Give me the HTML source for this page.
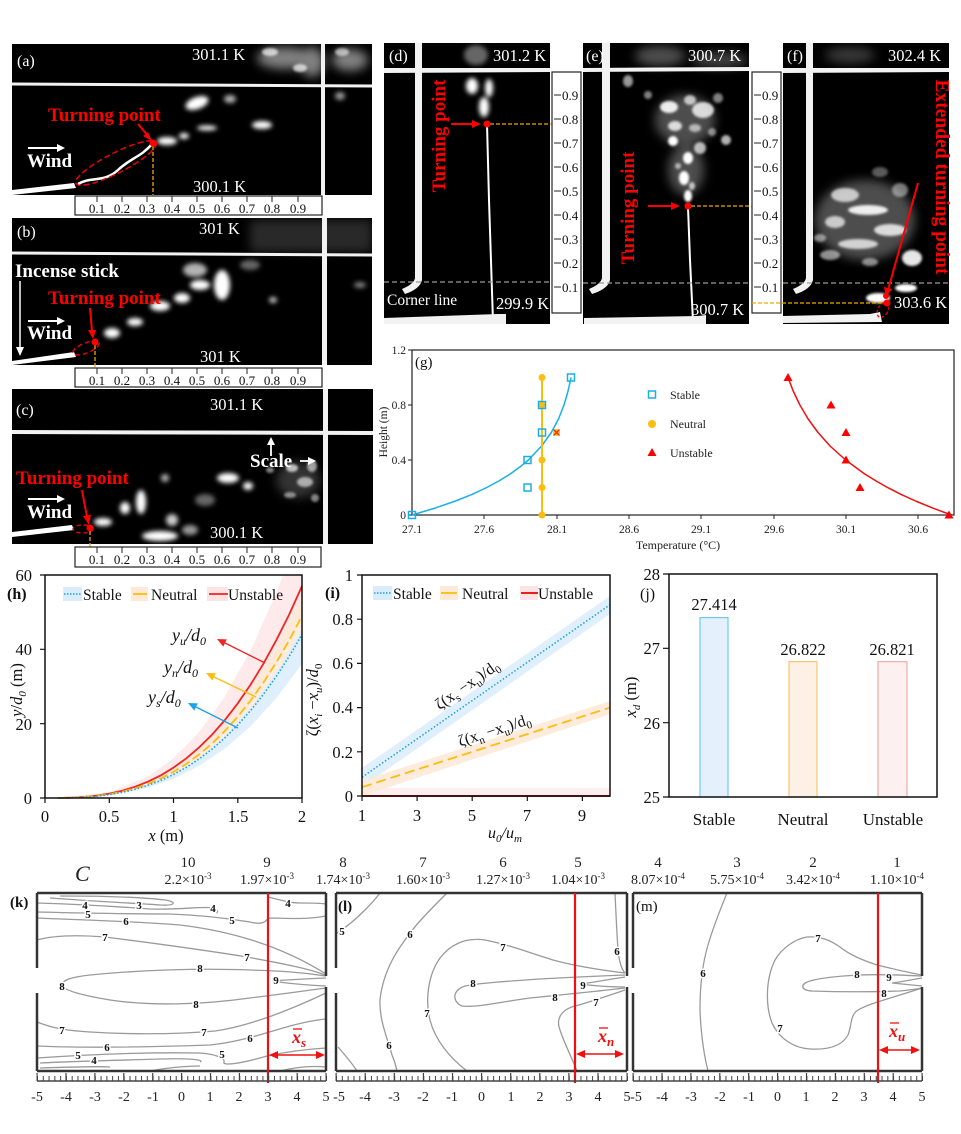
<!DOCTYPE html>
<html><head><meta charset="utf-8">
<style>
html,body{margin:0;padding:0;background:#fff;}
svg{display:block;font-family:"Liberation Serif","Times New Roman",serif;}
</style></head><body>
<svg width="961" height="1134" viewBox="0 0 961 1134" xmlns="http://www.w3.org/2000/svg">
<defs>
<filter id="b1" x="-50%" y="-50%" width="200%" height="200%"><feGaussianBlur stdDeviation="1.2"/></filter>
<filter id="b2" x="-50%" y="-50%" width="200%" height="200%"><feGaussianBlur stdDeviation="2.5"/></filter>
<filter id="b3" x="-50%" y="-50%" width="200%" height="200%"><feGaussianBlur stdDeviation="5"/></filter>
</defs>
<rect width="961" height="1134" fill="#fff"/>

<!-- ===================== (a) ===================== -->
<rect x="12" y="44" width="360" height="151" fill="#000"/>
<g filter="url(#b3)" fill="#fff" opacity="0.5">
<ellipse cx="285" cy="58" rx="28" ry="11"/><ellipse cx="312" cy="62" rx="12" ry="15"/><ellipse cx="350" cy="60" rx="18" ry="11"/>
</g>
<g filter="url(#b1)" fill="#fff">
<ellipse cx="270" cy="52" rx="8" ry="4" opacity="0.7"/><ellipse cx="300" cy="68" rx="7" ry="4" opacity="0.7"/><ellipse cx="342" cy="52" rx="7" ry="4" opacity="0.6"/>
</g>
<g filter="url(#b2)" fill="#fff">
<ellipse cx="197" cy="103" rx="12" ry="6" transform="rotate(-20 197 103)"/>
<ellipse cx="167" cy="141" rx="10" ry="4"/>
<ellipse cx="184" cy="136" rx="5" ry="3"/>
<ellipse cx="207" cy="128" rx="10" ry="2.5"/>
<ellipse cx="230" cy="99" rx="6" ry="4" opacity="0.7"/>
<ellipse cx="262" cy="125" rx="10" ry="4"/>
<ellipse cx="340" cy="96" rx="5" ry="4" opacity="0.6"/>
</g>
<path d="M78,184 C92,176 104,183 118,170 S140,158 153,143" stroke="#fff" stroke-width="2.5" fill="none"/>
<path d="M12,190 L74,183 L76,188 L12,195 Z" fill="#fff"/>
<path d="M12,84 L372,86" stroke="#f2f2f2" stroke-width="3"/>
<rect x="321" y="44" width="4" height="151" fill="#f2f2f2"/>
<ellipse cx="116" cy="163" rx="45" ry="10" transform="rotate(-27 116 163)" fill="none" stroke="#e00" stroke-width="1.5" stroke-dasharray="6,3"/>
<line x1="153" y1="146" x2="153" y2="196" stroke="#f0a800" stroke-width="1.3" stroke-dasharray="4,2"/>
<circle cx="153" cy="143" r="3.5" fill="#f00"/>
<line x1="138" y1="124" x2="149" y2="137" stroke="#f00" stroke-width="2"/>
<polygon points="152,141 143,136 148,132" fill="#f00"/>
<text x="17" y="66" fill="#fff" font-size="16">(a)</text>
<text x="192" y="60" fill="#fff" font-size="16.5">301.1 K</text>
<text x="193" y="192" fill="#fff" font-size="16.5">300.1 K</text>
<text x="48" y="121" fill="#f00" font-size="19" font-weight="bold">Turning point</text>
<line x1="28" y1="148" x2="58" y2="148" stroke="#fff" stroke-width="2"/><polygon points="65,148 57,144 57,152" fill="#fff"/>
<text x="27" y="167" fill="#fff" font-size="19" font-weight="bold">Wind</text>
<!-- scale a -->
<rect x="75" y="196" width="247" height="19" fill="#fff" stroke="#222" stroke-width="1.2"/>
<g stroke="#222" stroke-width="1"><path d="M97,196v6M122,196v6M147,196v6M172,196v6M197,196v6M222,196v6M247,196v6M272,196v6M298,196v6"/></g>
<g font-size="13" text-anchor="middle" fill="#111"><text x="97" y="213">0.1</text><text x="122" y="213">0.2</text><text x="147" y="213">0.3</text><text x="172" y="213">0.4</text><text x="197" y="213">0.5</text><text x="222" y="213">0.6</text><text x="247" y="213">0.7</text><text x="272" y="213">0.8</text><text x="298" y="213">0.9</text></g>

<!-- ===================== (b) ===================== -->
<rect x="12" y="218" width="360" height="147" fill="#000"/>
<rect x="250" y="220" width="122" height="32" fill="#fff" opacity="0.16" filter="url(#b3)"/>
<g filter="url(#b2)" fill="#fff">
<ellipse cx="112" cy="333" rx="8" ry="5"/>
<ellipse cx="135" cy="322" rx="8" ry="4"/>
<ellipse cx="160" cy="306" rx="10" ry="5"/>
<ellipse cx="182" cy="298" rx="8" ry="5"/>
<ellipse cx="200" cy="285" rx="10" ry="5"/>
<ellipse cx="222" cy="285" rx="8" ry="15"/>
<ellipse cx="195" cy="270" rx="12" ry="7" opacity="0.7"/>
<ellipse cx="273" cy="300" rx="4" ry="3" opacity="0.8"/>
<ellipse cx="250" cy="265" rx="10" ry="5" opacity="0.4"/>
<ellipse cx="360" cy="285" rx="6" ry="3" opacity="0.5"/>
</g>
<path d="M12,361 L74,352 L76,357 L12,365 Z" fill="#fff"/>
<path d="M12,253 L372,255" stroke="#f2f2f2" stroke-width="3"/>
<rect x="322" y="218" width="5" height="147" fill="#f2f2f2"/>
<ellipse cx="86" cy="348" rx="14" ry="5" transform="rotate(-22 86 348)" fill="none" stroke="#e00" stroke-width="1.4" stroke-dasharray="5,3"/>
<line x1="95" y1="345" x2="95" y2="368" stroke="#f0a800" stroke-width="1.3" stroke-dasharray="4,2"/>
<circle cx="95" cy="342" r="3.5" fill="#f00"/>
<line x1="90" y1="308" x2="92" y2="331" stroke="#f00" stroke-width="2"/><polygon points="93,339 88,330 96,330" fill="#f00"/>
<text x="17" y="237" fill="#fff" font-size="16">(b)</text>
<text x="199" y="234" fill="#fff" font-size="16.5">301 K</text>
<text x="200" y="362" fill="#fff" font-size="16.5">301 K</text>
<text x="15" y="277" fill="#fff" font-size="19" font-weight="bold">Incense stick</text>
<line x1="20" y1="281" x2="20" y2="348" stroke="#fff" stroke-width="1.5"/><polygon points="20,356 16,347 24,347" fill="#fff"/>
<text x="48" y="304" fill="#f00" font-size="19" font-weight="bold">Turning point</text>
<line x1="28" y1="321" x2="58" y2="321" stroke="#fff" stroke-width="2"/><polygon points="65,321 57,317 57,325" fill="#fff"/>
<text x="27" y="339" fill="#fff" font-size="19" font-weight="bold">Wind</text>
<!-- scale b -->
<rect x="75" y="368" width="247" height="19" fill="#fff" stroke="#222" stroke-width="1.2"/>
<g stroke="#222" stroke-width="1"><path d="M97,368v6M122,368v6M147,368v6M172,368v6M197,368v6M222,368v6M247,368v6M272,368v6M298,368v6"/></g>
<g font-size="13" text-anchor="middle" fill="#111"><text x="97" y="385">0.1</text><text x="122" y="385">0.2</text><text x="147" y="385">0.3</text><text x="172" y="385">0.4</text><text x="197" y="385">0.5</text><text x="222" y="385">0.6</text><text x="247" y="385">0.7</text><text x="272" y="385">0.8</text><text x="298" y="385">0.9</text></g>

<!-- ===================== (c) ===================== -->
<rect x="12" y="389" width="361" height="155" fill="#000"/>
<g filter="url(#b2)" fill="#fff">
<ellipse cx="103" cy="522" rx="9" ry="4"/>
<ellipse cx="141" cy="502" rx="5" ry="12"/>
<ellipse cx="125" cy="508" rx="5" ry="6"/>
<ellipse cx="160" cy="536" rx="18" ry="5"/>
<ellipse cx="172" cy="520" rx="6" ry="6" opacity="0.8"/>
<ellipse cx="165" cy="478" rx="4" ry="4" opacity="0.7"/>
<ellipse cx="228" cy="478" rx="11" ry="5"/>
<ellipse cx="248" cy="486" rx="5" ry="4"/>
<ellipse cx="205" cy="500" rx="10" ry="6" opacity="0.4"/>
<ellipse cx="190" cy="530" rx="8" ry="5" opacity="0.6"/>
</g>
<g filter="url(#b1)" fill="#fff">
<ellipse cx="292" cy="468" rx="6" ry="4" opacity="0.7"/>
<ellipse cx="305" cy="482" rx="8" ry="5" opacity="0.6"/>
<ellipse cx="312" cy="466" rx="5" ry="6" opacity="0.6"/>
<ellipse cx="290" cy="495" rx="6" ry="3" opacity="0.5"/>
<ellipse cx="315" cy="498" rx="4" ry="4" opacity="0.5"/>
<ellipse cx="270" cy="470" rx="4" ry="3" opacity="0.5"/>
</g>
<ellipse cx="298" cy="480" rx="22" ry="18" fill="#fff" opacity="0.2" filter="url(#b3)"/>
<path d="M12,532 L72,525 L74,530 L12,537 Z" fill="#fff"/>
<path d="M12,432 L373,433" stroke="#f2f2f2" stroke-width="4"/>
<rect x="323" y="389" width="5" height="155" fill="#f2f2f2"/>
<ellipse cx="83" cy="529" rx="10" ry="4" fill="none" stroke="#e00" stroke-width="1.4" stroke-dasharray="4,3"/>
<line x1="90" y1="531" x2="90" y2="547" stroke="#f0a800" stroke-width="1.3" stroke-dasharray="4,2"/>
<circle cx="90" cy="528" r="3.5" fill="#f00"/>
<line x1="82" y1="490" x2="87" y2="517" stroke="#f00" stroke-width="2"/><polygon points="89,525 83,516 91,515" fill="#f00"/>
<text x="16" y="415" fill="#fff" font-size="16">(c)</text>
<text x="210" y="410" fill="#fff" font-size="16.5">301.1 K</text>
<text x="210" y="538" fill="#fff" font-size="16.5">300.1 K</text>
<text x="16" y="484" fill="#f00" font-size="19" font-weight="bold">Turning point</text>
<line x1="28" y1="499" x2="58" y2="499" stroke="#fff" stroke-width="2"/><polygon points="65,499 57,495 57,503" fill="#fff"/>
<text x="27" y="518" fill="#fff" font-size="19" font-weight="bold">Wind</text>
<text x="250" y="467" fill="#fff" font-size="19" font-weight="bold">Scale</text>
<line x1="271" y1="456" x2="271" y2="443" stroke="#fff" stroke-width="1.8"/><polygon points="271,437 267,445 275,445" fill="#fff"/>
<line x1="300" y1="461" x2="309" y2="461" stroke="#fff" stroke-width="1.8"/><polygon points="316,461 308,457 308,465" fill="#fff"/>
<!-- scale c -->
<rect x="75" y="547" width="246" height="20" fill="#fff" stroke="#222" stroke-width="1.2"/>
<g stroke="#222" stroke-width="1"><path d="M97,547v6M122,547v6M147,547v6M172,547v6M197,547v6M222,547v6M247,547v6M272,547v6M298,547v6"/></g>
<g font-size="13" text-anchor="middle" fill="#111"><text x="97" y="564">0.1</text><text x="122" y="564">0.2</text><text x="147" y="564">0.3</text><text x="172" y="564">0.4</text><text x="197" y="564">0.5</text><text x="222" y="564">0.6</text><text x="247" y="564">0.7</text><text x="272" y="564">0.8</text><text x="298" y="564">0.9</text></g>

<!-- ===================== (d) ===================== -->
<rect x="384" y="43" width="166" height="281" fill="#000"/>
<g filter="url(#b2)" fill="#fff">
<ellipse cx="476" cy="55" rx="12" ry="10" opacity="0.4"/>
<ellipse cx="472" cy="86" rx="6" ry="8"/>
<ellipse cx="489" cy="88" rx="4" ry="9"/>
<ellipse cx="484" cy="107" rx="5" ry="10"/>
</g>
<path d="M487,124 L489,200 L493,322" stroke="#fff" stroke-width="2" fill="none"/>
<path d="M384,68 L550,68 L550,72 L384,73 Z" fill="#f2f2f2"/>
<path d="M415,43 L422,43 L422,280 Q420,289 405,294 L402,289 Q414,284 415,278 Z" fill="#f2f2f2"/>
<path d="M384,318 L498,314 L506,314 L506,324 L384,324 Z" fill="#f2f2f2"/>
<line x1="384" y1="282" x2="550" y2="282" stroke="#999" stroke-width="1.3" stroke-dasharray="5,3"/>
<line x1="490" y1="124" x2="552" y2="124" stroke="#f0a800" stroke-width="1.3" stroke-dasharray="4,2"/>
<circle cx="487" cy="124" r="3.5" fill="#f00"/>
<line x1="451" y1="124" x2="473" y2="124" stroke="#f00" stroke-width="2"/><polygon points="481,124 472,120 472,128" fill="#f00"/>
<text transform="translate(445,136) rotate(-90)" text-anchor="middle" fill="#f00" font-size="19" font-weight="bold">Turning point</text>
<text x="389" y="61" fill="#fff" font-size="16">(d)</text>
<text x="493" y="61" fill="#fff" font-size="16.5">301.2 K</text>
<text x="496" y="309" fill="#fff" font-size="16.5">299.9 K</text>
<text x="387" y="305" fill="#fff" font-size="15.5">Corner line</text>
<!-- scale d -->
<rect x="552" y="72" width="29" height="241" fill="#fff" stroke="#222" stroke-width="1.2"/>
<g stroke="#222" stroke-width="1"><path d="M554,95h7M554,119h7M554,143h7M554,167h7M554,191h7M554,215h7M554,239h7M554,263h7M554,287h7"/></g>
<g font-size="13" fill="#111"><text x="562" y="100">0.9</text><text x="562" y="124">0.8</text><text x="562" y="148">0.7</text><text x="562" y="172">0.6</text><text x="562" y="196">0.5</text><text x="562" y="220">0.4</text><text x="562" y="244">0.3</text><text x="562" y="268">0.2</text><text x="562" y="292">0.1</text></g>

<!-- ===================== (e) ===================== -->
<rect x="583" y="43" width="166" height="281" fill="#000"/>
<g filter="url(#b3)" fill="#fff">
<ellipse cx="660" cy="56" rx="25" ry="10" opacity="0.3"/>
<ellipse cx="720" cy="60" rx="28" ry="8" opacity="0.25"/>
<ellipse cx="685" cy="120" rx="30" ry="25" opacity="0.3"/>
<ellipse cx="686" cy="170" rx="18" ry="25" opacity="0.3"/>
</g>
<g filter="url(#b1)" fill="#fff">
<ellipse cx="628" cy="81" rx="5" ry="6" opacity="0.6"/>
<ellipse cx="648" cy="95" rx="4" ry="4" opacity="0.5"/>
<ellipse cx="669" cy="107" rx="9" ry="6" opacity="0.9"/>
<ellipse cx="690" cy="100" rx="6" ry="5" opacity="0.7"/>
<ellipse cx="703" cy="110" rx="11" ry="8" opacity="0.8"/>
<ellipse cx="718" cy="98" rx="5" ry="5" opacity="0.5"/>
<ellipse cx="675" cy="126" rx="7" ry="5" opacity="0.8"/>
<ellipse cx="695" cy="128" rx="6" ry="4" opacity="0.6"/>
<ellipse cx="673" cy="141" rx="5" ry="5"/>
<ellipse cx="700" cy="148" rx="6" ry="6" opacity="0.7"/>
<ellipse cx="726" cy="140" rx="5" ry="5" opacity="0.7"/>
<ellipse cx="712" cy="132" rx="4" ry="4" opacity="0.5"/>
<ellipse cx="688" cy="158" rx="5" ry="6"/>
<ellipse cx="678" cy="166" rx="3" ry="3" opacity="0.6"/>
<ellipse cx="684" cy="178" rx="5" ry="7"/>
<ellipse cx="692" cy="186" rx="3" ry="4" opacity="0.7"/>
<ellipse cx="688" cy="196" rx="4" ry="6"/>
</g>
<path d="M688,207 L690,260 L693,322" stroke="#fff" stroke-width="2" fill="none"/>
<path d="M583,68 L749,67 L749,71 L583,72 Z" fill="#f2f2f2"/>
<path d="M602,43 L610,43 L610,280 Q608,289 592,294 L589,289 Q601,284 602,278 Z" fill="#f2f2f2"/>
<path d="M584,318 L698,316 L706,315 L706,324 L584,324 Z" fill="#f2f2f2"/>
<line x1="583" y1="283" x2="749" y2="283" stroke="#999" stroke-width="1.3" stroke-dasharray="5,3"/>
<line x1="691" y1="206" x2="752" y2="206" stroke="#f0a800" stroke-width="1.3" stroke-dasharray="4,2"/>
<circle cx="688" cy="206" r="3.5" fill="#f00"/>
<line x1="648" y1="206" x2="672" y2="206" stroke="#f00" stroke-width="2"/><polygon points="680,206 671,202 671,210" fill="#f00"/>
<text transform="translate(634,208) rotate(-90)" text-anchor="middle" fill="#f00" font-size="19" font-weight="bold">Turning point</text>
<text x="586" y="61" fill="#fff" font-size="16">(e)</text>
<text x="688" y="61" fill="#fff" font-size="16.5">300.7 K</text>
<text x="691" y="315" fill="#fff" font-size="16.5">300.7 K</text>
<!-- scale e -->
<rect x="752" y="72" width="29" height="241" fill="#fff" stroke="#222" stroke-width="1.2"/>
<g stroke="#222" stroke-width="1"><path d="M754,95h7M754,119h7M754,143h7M754,167h7M754,191h7M754,215h7M754,239h7M754,263h7M754,287h7"/></g>
<g font-size="13" fill="#111"><text x="762" y="100">0.9</text><text x="762" y="124">0.8</text><text x="762" y="148">0.7</text><text x="762" y="172">0.6</text><text x="762" y="196">0.5</text><text x="762" y="220">0.4</text><text x="762" y="244">0.3</text><text x="762" y="268">0.2</text><text x="762" y="292">0.1</text></g>

<!-- ===================== (f) ===================== -->
<rect x="783" y="43" width="166" height="281" fill="#000"/>
<g filter="url(#b3)" fill="#fff">
<ellipse cx="850" cy="55" rx="25" ry="8" opacity="0.22"/>
<ellipse cx="865" cy="220" rx="50" ry="40" opacity="0.3"/>
</g>
<g filter="url(#b1)" fill="#fff">
<ellipse cx="845" cy="195" rx="14" ry="7" opacity="0.7"/>
<ellipse cx="868" cy="210" rx="20" ry="5" opacity="0.9"/>
<ellipse cx="835" cy="222" rx="10" ry="6" opacity="0.7"/>
<ellipse cx="890" cy="230" rx="16" ry="6" opacity="0.8"/>
<ellipse cx="858" cy="244" rx="20" ry="5" opacity="0.75"/>
<ellipse cx="830" cy="255" rx="10" ry="5" opacity="0.55"/>
<ellipse cx="912" cy="258" rx="10" ry="8" opacity="0.9"/>
<ellipse cx="900" cy="190" rx="8" ry="7" opacity="0.45"/>
<ellipse cx="880" cy="172" rx="8" ry="5" opacity="0.35"/>
<ellipse cx="870" cy="262" rx="8" ry="4" opacity="0.5"/>
<ellipse cx="820" cy="238" rx="6" ry="4" opacity="0.5"/>
<ellipse cx="878" cy="298" rx="12" ry="5"/>
<ellipse cx="906" cy="288" rx="11" ry="4"/>
</g>
<path d="M783,68 L949,68 L949,72 L783,73 Z" fill="#f2f2f2"/>
<path d="M806,43 L813,43 L813,280 Q811,289 796,294 L793,289 Q805,284 806,278 Z" fill="#f2f2f2"/>
<path d="M783,316 L870,314 L880,312 L882,322 L783,323 Z" fill="#f2f2f2"/>
<line x1="783" y1="283" x2="949" y2="283" stroke="#999" stroke-width="1.3" stroke-dasharray="5,3"/>
<line x1="752" y1="303" x2="884" y2="303" stroke="#f0a800" stroke-width="1.3" stroke-dasharray="4,2"/>
<line x1="918" y1="183" x2="888" y2="290" stroke="#f00" stroke-width="2"/>
<polygon points="886,297 884,287 892,289" fill="#f00"/>
<circle cx="886" cy="296" r="3" fill="#f00"/><circle cx="887" cy="303" r="3.5" fill="#f00"/>
<ellipse cx="883" cy="310" rx="5" ry="8" transform="rotate(30 883 310)" fill="none" stroke="#e00" stroke-width="1.3" stroke-dasharray="3,2"/>
<text transform="translate(936,177) rotate(90)" text-anchor="middle" fill="#f00" font-size="19.5" font-weight="bold">Extended turning point</text>
<text x="787" y="61" fill="#fff" font-size="16">(f)</text>
<text x="888" y="61" fill="#fff" font-size="16.5">302.4 K</text>
<text x="894" y="308" fill="#fff" font-size="16.5">303.6 K</text>

<!-- ===================== (g) ===================== -->
<rect x="412" y="350" width="542" height="165" fill="none" stroke="#222" stroke-width="1.2"/>
<g stroke="#222" stroke-width="1"><path d="M408,350h4M408,405h4M408,460h4M408,515h4M484,515v4M557,515v4M629,515v4M701,515v4M774,515v4M846,515v4M918,515v4"/></g>
<g font-size="11.5" fill="#222" text-anchor="end"><text x="406" y="354">1.2</text><text x="406" y="409">0.8</text><text x="406" y="464">0.4</text><text x="406" y="519">0</text></g>
<g font-size="11.5" fill="#222" text-anchor="middle"><text x="412" y="533">27.1</text><text x="484" y="533">27.6</text><text x="557" y="533">28.1</text><text x="629" y="533">28.6</text><text x="701" y="533">29.1</text><text x="774" y="533">29.6</text><text x="846" y="533">30.1</text><text x="918" y="533">30.6</text></g>
<text x="678" y="549" font-size="12" text-anchor="middle" fill="#222">Temperature (°C)</text>
<text transform="translate(387,432) rotate(-90)" font-size="11.5" text-anchor="middle" fill="#222">Height (m)</text>
<text x="415" y="367" font-size="15" fill="#111">(g)</text>
<polyline points="412,515 435,508.1 454.9,501.25 472,494.4 486.8,487.5 499.5,480.6 510.6,473.75 520,466.9 528.3,460 541.4,446.25 551.3,432.5 558.6,418.75 564,405 568,391.25 571.1,377.5" fill="none" stroke="#1aaee8" stroke-width="1.5" stroke-linejoin="round"/>
<line x1="542" y1="377.5" x2="542" y2="515" stroke="#fbbd10" stroke-width="2"/>
<g fill="#fbbd10"><circle cx="542" cy="377.5" r="3.5"/><circle cx="542" cy="405" r="3.5"/><circle cx="542" cy="460" r="3.5"/><circle cx="542" cy="487.5" r="3.5"/><circle cx="542" cy="515" r="3.5"/><circle cx="556.6" cy="432.5" r="3.5"/></g>
<path d="M553.5,429.5l6,6M559.5,429.5l-6,6" stroke="#e83010" stroke-width="1.3"/>
<g fill="none" stroke="#1aaee8" stroke-width="1.5"><rect x="408.5" y="511.5" width="7" height="7"/><rect x="524" y="484" width="7" height="7"/><rect x="524" y="456.5" width="7" height="7"/><rect x="538.5" y="429" width="7" height="7"/><rect x="538.5" y="401.5" width="7" height="7"/><rect x="567.5" y="374" width="7" height="7"/></g>
<polyline points="788,377.5 793.3,391.25 799.9,405 808,418.75 818,432.5 830.3,446.25 845.6,460 864.4,473.75 875.5,480.6 887.5,487.5 901.1,494.4 916.1,501.25 932.8,508.1 951.4,515" fill="none" stroke="#f01010" stroke-width="1.5" stroke-linejoin="round"/>
<g fill="#f00"><polygon points="788,373 783.5,381 792.5,381"/><polygon points="831,400.5 826.5,408.5 835.5,408.5"/><polygon points="846,428 841.5,436 850.5,436"/><polygon points="846,455.5 841.5,463.5 850.5,463.5"/><polygon points="860,483 855.5,491 864.5,491"/><polygon points="949,510.5 944.5,518.5 953.5,518.5"/></g>
<rect x="648.5" y="391" width="7" height="7" fill="none" stroke="#1aaee8" stroke-width="1.5"/>
<circle cx="652" cy="424" r="4" fill="#fbbd10"/>
<polygon points="652,448 647.5,456 656.5,456" fill="#f00"/>
<g font-size="12" fill="#222"><text x="670" y="399">Stable</text><text x="670" y="428">Neutral</text><text x="670" y="457">Unstable</text></g>

<!-- ===================== (h) ===================== -->
<polygon points="57.9,797.9 109.3,792.3 147.8,776.8 173.5,758.4 199.2,732.1 224.9,696.5 250.6,650.5 276.3,592.9 283,575 302,575 302,617.9 276.3,663.9 250.6,701.6 224.9,731.7 199.2,754.9 173.5,772.1 147.8,784.1 109.3,794.3 57.9,798" fill="#fde3e3" opacity="0.75"/>
<polygon points="57.9,798 109.3,793.8 147.8,782.3 173.5,768.7 199.2,749.2 224.9,722.9 250.6,688.8 276.3,646.2 302,594 302,637.8 276.3,678.7 250.6,712.2 224.9,739 199.2,759.7 173.5,775 147.8,785.7 109.3,794.7 57.9,798" fill="#fde9d6" opacity="0.8"/>
<polygon points="57.9,798 109.3,794.5 147.8,785.1 173.5,773.8 199.2,757.7 224.9,736 250.6,707.8 276.3,672.6 302,629.6 302,663.9 276.3,698.2 250.6,726.2 224.9,748.6 199.2,765.9 173.5,778.7 147.8,787.7 109.3,795.2 57.9,798" fill="#d9ecfb" opacity="0.85"/>
<polyline points="57.9,798 70.7,797.7 83.6,797 96.4,795.7 109.3,793.6 122.1,790.7 135,786.8 147.8,781.7 160.7,775.4 173.5,767.6 186.4,758.3 199.2,747.3 212.1,734.6 224.9,720 237.8,703.3 250.6,684.6 263.5,663.6 276.3,640.2 289.2,614.5 302,586.1" fill="none" stroke="#f02525" stroke-width="1.8"/>
<polyline points="57.9,798 70.7,797.7 83.6,797.1 96.4,796 109.3,794.3 122.1,791.7 135,788.4 147.8,784 160.7,778.5 173.5,771.9 186.4,763.9 199.2,754.4 212.1,743.5 224.9,730.9 237.8,716.6 250.6,700.5 263.5,682.5 276.3,662.4 289.2,640.3 302,615.9" fill="none" stroke="#fbbd10" stroke-width="1.8" stroke-dasharray="9,4"/>
<polyline points="57.9,798 70.7,797.7 83.6,797.2 96.4,796.2 109.3,794.6 122.1,792.4 135,789.4 147.8,785.4 160.7,780.5 173.5,774.5 186.4,767.3 199.2,758.9 212.1,749.1 224.9,737.8 237.8,724.9 250.6,710.5 263.5,694.3 276.3,676.3 289.2,656.4 302,634.5" fill="none" stroke="#1aa3e8" stroke-width="1.6" stroke-dasharray="1.5,2"/>
<rect x="45" y="575" width="257" height="223" fill="none" stroke="#111" stroke-width="1.5"/>
<g stroke="#111" stroke-width="1.2"><path d="M40,575h5M40,649.3h5M40,723.7h5M40,798h5M45,798v5M109.3,798v5M173.5,798v5M237.8,798v5M302,798v5"/></g>
<g font-size="16.5" fill="#111" text-anchor="end"><text x="32" y="581">60</text><text x="32" y="655">40</text><text x="32" y="730">20</text><text x="32" y="804">0</text></g>
<g font-size="16.5" fill="#111" text-anchor="middle"><text x="45" y="822">0</text><text x="109" y="822">0.5</text><text x="173.5" y="822">1</text><text x="238" y="822">1.5</text><text x="302" y="822">2</text></g>
<text x="166" y="841" font-size="16.5" text-anchor="middle" fill="#111"><tspan font-style="italic">x</tspan> (m)</text>
<text transform="translate(22,690) rotate(-90)" font-size="16.5" text-anchor="middle" fill="#111"><tspan font-style="italic">y</tspan>/<tspan font-style="italic">d</tspan><tspan font-size="11" dy="4" font-style="italic">0</tspan><tspan dy="-4"> (m)</tspan></text>
<text x="7" y="599" font-size="16" font-weight="bold" fill="#111">(h)</text>
<rect x="63" y="587" width="19" height="14" fill="#d9ecfb"/><line x1="64" y1="594" x2="82" y2="594" stroke="#1aa3e8" stroke-width="1.6" stroke-dasharray="1.5,1.5"/>
<text x="83" y="600" font-size="15.5" fill="#111">Stable</text>
<rect x="131" y="587" width="17" height="14" fill="#fde9d6"/><line x1="133" y1="594" x2="147" y2="594" stroke="#fbbd10" stroke-width="1.8"/>
<text x="151" y="600" font-size="15.5" fill="#111">Neutral</text>
<rect x="207" y="587" width="21" height="14" fill="#fde3e3"/><line x1="209" y1="594" x2="228" y2="594" stroke="#f02525" stroke-width="1.8"/>
<text x="228" y="600" font-size="15.5" fill="#111">Unstable</text>
<line x1="265" y1="663" x2="225" y2="643" stroke="#f02525" stroke-width="1.4"/><polygon points="217,639 226.8,639.4 223.3,646.6" fill="#f02525"/>
<line x1="256" y1="697" x2="214" y2="677" stroke="#fbbd10" stroke-width="1.4"/><polygon points="206,673 215.8,673.3 212.4,680.5" fill="#fbbd10"/>
<line x1="238" y1="728" x2="196" y2="707" stroke="#1aa3e8" stroke-width="1.4"/><polygon points="188,703 197.8,703.4 194.3,710.6" fill="#1aa3e8"/>
<g font-size="18" font-style="italic" fill="#111">
<text x="172" y="641">y<tspan font-size="12" dy="4">u</tspan><tspan dy="-4">/</tspan>d<tspan font-size="12" dy="4">0</tspan></text>
<text x="164" y="673">y<tspan font-size="12" dy="4">n</tspan><tspan dy="-4">/</tspan>d<tspan font-size="12" dy="4">0</tspan></text>
<text x="148" y="703">y<tspan font-size="12" dy="4">s</tspan><tspan dy="-4">/</tspan>d<tspan font-size="12" dy="4">0</tspan></text>
</g>

<!-- ===================== (i) ===================== -->
<rect x="362" y="788" width="248" height="8" fill="#fde3e3" opacity="0.6"/>
<polygon points="362,768 610,596 610,614 362,787" fill="#d9ecfb" opacity="0.85"/>
<polygon points="362,780.6 610,701 610,714.2 362,796" fill="#fde9d6" opacity="0.85"/>
<line x1="362" y1="777.2" x2="610" y2="604.8" stroke="#1aa3e8" stroke-width="1.5" stroke-dasharray="1.5,2"/>
<line x1="362" y1="787.2" x2="610" y2="707.6" stroke="#fbbd10" stroke-width="1.8" stroke-dasharray="10,5"/>
<line x1="362" y1="796" x2="610" y2="796" stroke="#e82020" stroke-width="2"/>
<rect x="362" y="575" width="248" height="221" fill="none" stroke="#111" stroke-width="1.5"/>
<g stroke="#111" stroke-width="1.2"><path d="M357,575h5M357,619.2h5M357,663.4h5M357,707.6h5M357,751.8h5M357,796h5M362,796v5M417.1,796v5M472.2,796v5M527.3,796v5M582.4,796v5"/></g>
<g font-size="16.5" fill="#111" text-anchor="end"><text x="353" y="581">1</text><text x="353" y="625">0.8</text><text x="353" y="669">0.6</text><text x="353" y="713">0.4</text><text x="353" y="758">0.2</text><text x="353" y="802">0</text></g>
<g font-size="16.5" fill="#111" text-anchor="middle"><text x="362" y="821">1</text><text x="417" y="821">3</text><text x="472" y="821">5</text><text x="527" y="821">7</text><text x="582" y="821">9</text></g>
<text x="505" y="838" font-size="16" font-style="italic" text-anchor="middle" fill="#111">u<tspan font-size="11" dy="4">0</tspan><tspan dy="-4">/u</tspan><tspan font-size="11" dy="4">m</tspan></text>
<text transform="translate(318,700) rotate(-90)" font-size="16.5" text-anchor="middle" fill="#111">ζ(<tspan font-style="italic">x</tspan><tspan font-size="11" dy="4" font-style="italic">i</tspan><tspan dy="-4"> −</tspan><tspan font-style="italic">x</tspan><tspan font-size="11" dy="4" font-style="italic">u</tspan><tspan dy="-4">)/</tspan><tspan font-style="italic">d</tspan><tspan font-size="11" dy="4">0</tspan></text>
<text x="325" y="598" font-size="16" font-weight="bold" fill="#111">(i)</text>
<rect x="373" y="586" width="19" height="14" fill="#d9ecfb"/><line x1="374" y1="593" x2="392" y2="593" stroke="#1aa3e8" stroke-width="1.6" stroke-dasharray="1.5,1.5"/>
<text x="393" y="599" font-size="15.5" fill="#111">Stable</text>
<rect x="440" y="586" width="18" height="14" fill="#fde9d6"/><line x1="441" y1="593" x2="457" y2="593" stroke="#fbbd10" stroke-width="1.8"/>
<text x="462" y="599" font-size="15.5" fill="#111">Neutral</text>
<rect x="520" y="586" width="18" height="14" fill="#fde3e3"/><line x1="521" y1="593" x2="538" y2="593" stroke="#e82020" stroke-width="2"/>
<text x="538" y="599" font-size="15.5" fill="#111">Unstable</text>
<text transform="translate(470,689) rotate(-34.8)" font-size="16" text-anchor="middle" fill="#111">ζ(x<tspan font-size="11" dy="4">s</tspan><tspan dy="-4"> −x</tspan><tspan font-size="11" dy="4">u</tspan><tspan dy="-4">)/d</tspan><tspan font-size="11" dy="4">0</tspan></text>
<text transform="translate(496,735) rotate(-17.8)" font-size="16" text-anchor="middle" fill="#111">ζ(x<tspan font-size="11" dy="4">n</tspan><tspan dy="-4"> −x</tspan><tspan font-size="11" dy="4">u</tspan><tspan dy="-4">)/d</tspan><tspan font-size="11" dy="4">0</tspan></text>

<!-- ===================== (j) ===================== -->
<rect x="700" y="617.6" width="28" height="179.4" fill="#e4f0fb" stroke="#6fcaf2" stroke-width="1.2"/>
<rect x="789" y="661.6" width="28" height="135.4" fill="#fdf0e4" stroke="#f7c86a" stroke-width="1.2"/>
<rect x="878" y="661.7" width="29" height="135.3" fill="#fdf0f0" stroke="#f6a8a8" stroke-width="1.2"/>
<rect x="669" y="574" width="268" height="223" fill="none" stroke="#111" stroke-width="1.5"/>
<g stroke="#111" stroke-width="1.2"><path d="M663,574h6M663,648.3h6M663,722.7h6M663,797h6"/></g>
<g font-size="16.5" fill="#111" text-anchor="end"><text x="660" y="580">28</text><text x="660" y="654">27</text><text x="660" y="729">26</text><text x="660" y="803">25</text></g>
<g font-size="16.5" fill="#111" text-anchor="middle"><text x="714" y="610">27.414</text><text x="803" y="655">26.822</text><text x="892" y="655">26.821</text></g>
<g font-size="17" fill="#111" text-anchor="middle"><text x="714" y="825">Stable</text><text x="803" y="825">Neutral</text><text x="893" y="825">Unstable</text></g>
<text transform="translate(636,697) rotate(-90)" font-size="16.5" text-anchor="middle" fill="#111"><tspan font-style="italic">x</tspan><tspan font-size="11" dy="4" font-style="italic">d</tspan><tspan dy="-4"> (m)</tspan></text>
<text x="640" y="599" font-size="16" fill="#111">(j)</text>

<!-- ===================== header for k,l,m ===================== -->
<text x="75" y="881" font-size="22" font-style="italic" fill="#222">C</text>
<g font-size="15" fill="#222" text-anchor="middle">
<text x="188" y="867">10</text><text x="267" y="867">9</text><text x="343" y="867">8</text><text x="423" y="867">7</text><text x="503" y="867">6</text><text x="578" y="867">5</text><text x="658" y="867">4</text><text x="737" y="867">3</text><text x="813" y="867">2</text><text x="897" y="867">1</text>
</g>
<g font-size="14" fill="#222" text-anchor="middle">
<text x="188" y="884">2.2×10<tspan font-size="9" dy="-5">-3</tspan></text>
<text x="267" y="884">1.97×10<tspan font-size="9" dy="-5">-3</tspan></text>
<text x="343" y="884">1.74×10<tspan font-size="9" dy="-5">-3</tspan></text>
<text x="423" y="884">1.60×10<tspan font-size="9" dy="-5">-3</tspan></text>
<text x="503" y="884">1.27×10<tspan font-size="9" dy="-5">-3</tspan></text>
<text x="578" y="884">1.04×10<tspan font-size="9" dy="-5">-3</tspan></text>
<text x="658" y="884">8.07×10<tspan font-size="9" dy="-5">-4</tspan></text>
<text x="737" y="884">5.75×10<tspan font-size="9" dy="-5">-4</tspan></text>
<text x="813" y="884">3.42×10<tspan font-size="9" dy="-5">-4</tspan></text>
<text x="897" y="884">1.10×10<tspan font-size="9" dy="-5">-4</tspan></text>
</g>

<!-- ===================== (k) ===================== -->
<g fill="none" stroke="#9a9a9a" stroke-width="1.3">
<path d="M50,898 C90,901 130,903 160,905 C175,906 178,902 165,900 C140,897 100,896 60,896"/>
<path d="M37,903 C70,904 110,906 150,909 C180,910 205,906 213,908 C218,910 219,913 215,913"/>
<path d="M268,897 C280,900 290,903 300,903 C312,903 320,903 326,904"/>
<path d="M37,912 C80,913 130,914 170,914 C200,915 225,918 250,922 C262,925 266,922 268,918 C285,918 305,920 326,916"/>
<path d="M37,918 C80,920 130,921 180,925 C230,931 280,945 326,974"/>
<path d="M37,940 C55,935 80,935 105,937 C160,944 210,951 247,957 C285,964 310,969 325,975"/>
<path d="M326,976 C300,972 280,971 250,970 C200,968 140,970 90,975 C72,977 62,980 62,985 C63,990 80,995 110,1000 C150,1006 200,1005 250,998 C290,993 310,990 326,988"/>
<path d="M326,978 C300,979 285,980 272,981 C285,983 305,985 326,986"/>
<path d="M37,1022 C50,1027 60,1030 90,1032 C140,1035 180,1034 215,1031 C250,1026 290,1010 326,993"/>
<path d="M37,1046 C80,1048 150,1047 210,1045 C240,1042 265,1033 290,1026 C305,1022 315,1020 326,1019"/>
<path d="M37,1058 C80,1055 140,1052 200,1053 C215,1054 225,1058 224,1062 C222,1066 240,1064 267,1056 C290,1051 310,1049 326,1048"/>
<path d="M40,1063 C80,1061 130,1060 160,1059 C190,1058 205,1060 200,1062"/>
<path d="M40,1068 C70,1067 100,1066 110,1067"/>
<path d="M150,1071 C175,1066 200,1066 200,1066"/>
<path d="M280,1071 C300,1066 315,1066 326,1067"/>
</g>
<g font-size="11" font-weight="bold" fill="#111" text-anchor="middle" stroke="#fff" stroke-width="3" paint-order="stroke">
<text x="85" y="909">4</text><text x="139" y="909">3</text><text x="213" y="912">4</text><text x="288" y="907">4</text>
<text x="88" y="918">5</text><text x="232" y="924">5</text><text x="126" y="925">6</text>
<text x="105" y="941">7</text><text x="247" y="961">7</text>
<text x="200" y="972">8</text><text x="62" y="990">8</text><text x="196" y="1008">8</text>
<text x="276" y="984">9</text>
<text x="62" y="1034">7</text><text x="204" y="1036">7</text>
<text x="107" y="1051">6</text><text x="250" y="1042">6</text>
<text x="78" y="1059">5</text><text x="222" y="1058">5</text><text x="94" y="1064">4</text>
</g>
<g stroke="#333" stroke-width="2.5" fill="none">
<path d="M37,893 H326 M37,1071 H326 M37,893 V968 M37,993 V1071 M326,893 V976 M326,987 V1071"/>
</g>
<text x="10" y="907" font-size="15" font-weight="bold" fill="#111">(k)</text>

<!-- ===================== (l) ===================== -->
<g fill="none" stroke="#9a9a9a" stroke-width="1.3">
<path d="M337,933 C345,928 355,920 365,910 C372,903 377,897 380,893"/>
<path d="M447,893 C430,910 415,925 405,940 C390,960 382,980 380,1000 C379,1020 388,1040 392,1055 C395,1062 396,1066 397,1071"/>
<path d="M625,973 C600,970 575,966 553,960 C530,953 510,945 485,940 C465,937 450,945 440,958 C428,975 425,1000 430,1020 C435,1040 450,1058 467,1071"/>
<path d="M625,975 C600,976 575,977 540,979 C510,981 480,983 465,986 C452,990 452,1002 462,1006 C475,1008 500,1002 530,998 C560,995 600,991 625,988"/>
<path d="M625,977 C605,980 590,983 580,984 C595,986 610,987 625,987"/>
<path d="M625,990 C610,995 590,1002 575,1006 C560,1010 556,1020 560,1030 C565,1045 572,1058 577,1071"/>
<path d="M615,893 C616,915 617,935 618,950 C619,962 622,970 625,973"/>
<path d="M338,1047 C345,1055 352,1063 357,1071"/>
</g>
<g font-size="11" font-weight="bold" fill="#111" text-anchor="middle" stroke="#fff" stroke-width="3" paint-order="stroke">
<text x="342" y="935">5</text><text x="410" y="938">6</text><text x="389" y="1049">6</text>
<text x="503" y="951">7</text><text x="427" y="1017">7</text><text x="596" y="1006">7</text>
<text x="473" y="987">8</text><text x="555" y="1001">8</text><text x="583" y="989">9</text><text x="617" y="955">6</text>
</g>
<g stroke="#333" stroke-width="2.5" fill="none">
<path d="M336,893 H627 M336,1071 H627 M336,893 V968 M336,993 V1071 M627,893 V976 M627,987 V1071"/>
</g>
<text x="338" y="911" font-size="15" font-weight="bold" fill="#111">(l)</text>

<!-- ===================== (m) ===================== -->
<g fill="none" stroke="#9a9a9a" stroke-width="1.3">
<path d="M727,893 C720,910 713,928 708,945 C702,965 700,990 700,1010 C701,1035 704,1055 708,1071"/>
<path d="M922,975 C905,972 890,968 877,965 C862,960 850,955 840,947 C830,940 820,936 807,937 C795,939 782,948 775,960 C766,978 765,1005 772,1023 C780,1040 795,1048 810,1049 C828,1050 842,1046 848,1035 C852,1025 850,1015 858,1010 C870,1003 895,997 922,988"/>
<path d="M922,976 C900,975 880,974 860,975 C840,976 820,978 810,981 C800,984 800,990 812,991 C840,992 870,992 900,991 C910,990 917,989 922,988"/>
<path d="M922,978 C910,980 900,982 892,983 C902,984 912,985 922,986"/>
</g>
<g font-size="11" font-weight="bold" fill="#111" text-anchor="middle" stroke="#fff" stroke-width="3" paint-order="stroke">
<text x="703" y="977">6</text><text x="818" y="942">7</text><text x="780" y="1032">7</text>
<text x="857" y="978">8</text><text x="884" y="997">8</text><text x="889" y="981">9</text>
</g>
<g stroke="#333" stroke-width="2.5" fill="none">
<path d="M633,893 H922 M633,1071 H922 M633,893 V968 M633,993 V1071 M922,893 V976 M922,987 V1071"/>
</g>
<text x="636" y="911" font-size="15" fill="#111">(m)</text>

<!-- red lines & arrows -->
<g stroke="#f01010" stroke-width="2.2"><line x1="268" y1="893" x2="268" y2="1083"/><line x1="575" y1="893" x2="575" y2="1083"/><line x1="878" y1="893" x2="878" y2="1083"/></g>
<g stroke="#f01010" stroke-width="1.6"><line x1="276" y1="1055" x2="317" y2="1055"/><line x1="583" y1="1054" x2="616" y2="1054"/><line x1="886" y1="1050" x2="912" y2="1050"/></g>
<g fill="#f01010">
<polygon points="269,1055 278,1051 278,1059"/><polygon points="325,1055 316,1051 316,1059"/>
<polygon points="576,1054 585,1050 585,1058"/><polygon points="624,1054 615,1050 615,1058"/>
<polygon points="879,1050 888,1046 888,1054"/><polygon points="920,1050 911,1046 911,1054"/>
</g>
<g font-size="18" font-weight="bold" font-style="italic" fill="#f01010">
<text x="292" y="1043">x<tspan font-size="13" dy="4">s</tspan></text><line x1="293" y1="1029" x2="302" y2="1029" stroke="#f01010" stroke-width="1.3"/>
<text x="598" y="1042">x<tspan font-size="13" dy="4">n</tspan></text><line x1="599" y1="1028" x2="608" y2="1028" stroke="#f01010" stroke-width="1.3"/>
<text x="889" y="1037">x<tspan font-size="13" dy="4">u</tspan></text><line x1="890" y1="1023" x2="899" y2="1023" stroke="#f01010" stroke-width="1.3"/>
</g>

<!-- rulers -->
<g fill="none" stroke="#444">
<line x1="37" y1="1081" x2="326" y2="1081" stroke-width="1.4"/>
<line x1="336" y1="1081" x2="627" y2="1081" stroke-width="1.4"/>
<line x1="633" y1="1081" x2="922" y2="1081" stroke-width="1.4"/>
<line x1="37" y1="1078.5" x2="327" y2="1078.5" stroke-width="5" stroke-dasharray="1,4.78"/>
<line x1="336" y1="1078.5" x2="628" y2="1078.5" stroke-width="5" stroke-dasharray="1,4.82"/>
<line x1="633" y1="1078.5" x2="923" y2="1078.5" stroke-width="5" stroke-dasharray="1,4.78"/>
<line x1="36.5" y1="1077" x2="327" y2="1077" stroke-width="8" stroke-dasharray="1.2,27.7"/>
<line x1="335.5" y1="1077" x2="628" y2="1077" stroke-width="8" stroke-dasharray="1.2,27.9"/>
<line x1="632.5" y1="1077" x2="923" y2="1077" stroke-width="8" stroke-dasharray="1.2,27.7"/>
</g>
<g font-size="14" fill="#222" text-anchor="middle">
<text x="37" y="1101">-5</text><text x="66" y="1101">-4</text><text x="95" y="1101">-3</text><text x="124" y="1101">-2</text><text x="153" y="1101">-1</text><text x="181.5" y="1101">0</text><text x="210" y="1101">1</text><text x="239" y="1101">2</text><text x="268" y="1101">3</text><text x="297" y="1101">4</text><text x="326" y="1101">5</text>
<text x="339" y="1101">-5</text><text x="365" y="1101">-4</text><text x="394" y="1101">-3</text><text x="423" y="1101">-2</text><text x="452" y="1101">-1</text><text x="481.5" y="1101">0</text><text x="511" y="1101">1</text><text x="540" y="1101">2</text><text x="569" y="1101">3</text><text x="598" y="1101">4</text><text x="627" y="1101">5</text>
<text x="636" y="1101">-5</text><text x="662" y="1101">-4</text><text x="691" y="1101">-3</text><text x="720" y="1101">-2</text><text x="749" y="1101">-1</text><text x="777.5" y="1101">0</text><text x="806" y="1101">1</text><text x="835" y="1101">2</text><text x="864" y="1101">3</text><text x="893" y="1101">4</text><text x="922" y="1101">5</text>
</g>
</svg>
</body></html>
